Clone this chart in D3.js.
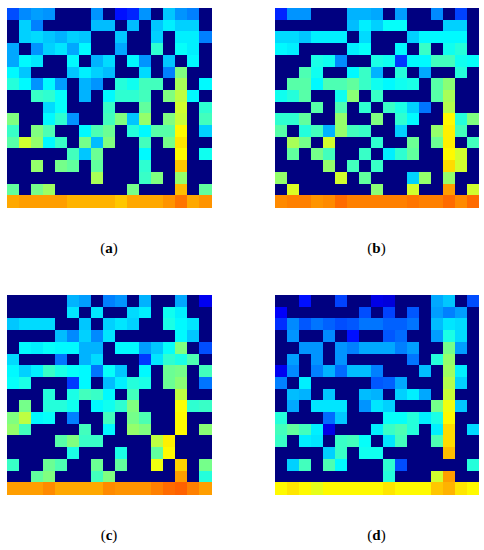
<!DOCTYPE html>
<html><head><meta charset="utf-8">
<script src="https://cdnjs.cloudflare.com/ajax/libs/d3/7.8.5/d3.min.js"></script>
<style>html,body{margin:0;padding:0;background:#fff}svg{display:block}</style>
</head><body><svg id="c" width="484" height="550"></svg>
<script>
const panelNames = ["a","b","c","d"];
const panelA = [
[20,26,28,27,0,0,0,27,0,14,16,27,0,32,27,25,0],
[0,33,25,0,0,0,0,31,31,0,31,0,32,36,33,33,0],
[0,33,34,32,30,33,32,0,0,32,0,0,33,0,36,36,25],
[29,0,27,33,35,29,37,0,0,29,0,0,42,0,38,36,0],
[29,37,35,0,0,37,0,30,34,0,37,27,0,32,0,37,0],
[37,32,0,0,0,32,36,33,31,0,0,34,0,25,50,0,0],
[41,37,27,37,28,0,30,27,0,41,39,44,44,0,54,0,37],
[0,0,43,42,38,0,30,0,37,42,42,44,0,50,56,37,0],
[0,0,0,34,38,0,0,0,43,0,0,47,0,0,58,0,42],
[50,0,0,37,42,27,0,0,44,50,32,52,0,50,57,0,44],
[43,0,50,45,0,0,37,45,48,0,41,37,46,46,63,0,33],
[46,58,52,37,43,0,49,31,50,0,0,44,0,49,65,0,0],
[0,0,0,0,0,44,32,48,0,0,0,37,0,0,63,0,39],
[0,0,52,0,49,47,0,47,0,0,0,42,0,0,68,0,0],
[0,0,0,0,0,0,0,54,0,0,0,43,50,0,52,0,0],
[47,0,49,53,0,0,0,0,0,0,49,0,0,0,69,0,47],
[71,72,72,72,72,70,70,70,70,68,71,71,71,73,76,71,73]];
const panelB = [
[16,27,27,0,0,0,30,30,29,0,28,0,0,26,0,19,0],
[0,0,0,0,0,0,31,36,33,38,38,0,0,0,33,33,0],
[34,34,32,36,36,36,0,34,0,0,0,33,37,37,37,37,0],
[37,36,0,0,0,0,36,38,0,0,37,0,43,0,39,41,0],
[0,0,0,40,39,26,0,0,40,39,18,37,37,44,44,39,38],
[0,0,45,39,0,0,37,43,30,0,41,0,29,0,0,41,0],
[0,46,46,37,45,45,47,43,39,37,39,40,0,46,51,0,0],
[39,41,46,0,0,39,51,0,43,0,0,0,0,46,54,0,0],
[0,0,0,46,0,45,0,42,0,43,40,33,24,0,55,0,0],
[42,42,47,0,0,52,0,0,50,0,42,37,0,0,63,41,50],
[46,0,41,44,30,52,44,43,0,0,33,0,0,52,64,44,0],
[0,54,49,0,58,0,0,0,42,0,0,48,0,48,64,0,44],
[0,47,0,49,44,0,0,43,0,36,42,47,0,0,63,58,0],
[0,0,0,0,52,0,44,0,43,0,0,0,0,0,66,58,0],
[52,0,0,0,0,58,0,47,0,0,0,33,52,0,52,0,0],
[0,59,0,0,0,0,0,0,51,0,0,58,0,0,72,0,58],
[74,75,75,73,74,77,75,75,75,75,75,76,75,75,77,74,77]];
const panelC = [
[0,0,0,0,0,30,28,0,25,27,0,30,0,0,29,0,11],
[0,0,0,0,0,35,0,35,0,0,34,36,0,39,36,0,0],
[32,34,34,34,0,0,32,0,33,35,33,0,0,40,37,35,0],
[0,0,0,0,31,26,33,26,35,0,0,0,0,0,37,32,0],
[0,37,36,38,37,37,30,30,0,37,37,28,32,38,50,0,20],
[34,0,0,0,24,0,30,34,0,0,0,18,35,42,40,45,0],
[37,33,36,43,40,38,37,24,38,32,0,37,0,48,49,0,44],
[38,40,0,0,0,18,37,0,31,36,41,40,0,48,51,0,24],
[0,0,0,41,0,40,44,43,37,0,44,0,0,0,56,0,0],
[0,49,0,41,41,39,0,37,39,42,50,0,0,0,62,42,43],
[50,56,37,38,0,25,0,0,44,0,49,45,0,0,63,0,0],
[52,44,0,0,0,0,44,0,37,0,52,50,0,0,63,0,51],
[0,0,0,0,46,50,43,43,0,0,0,0,56,64,0,0,0],
[0,0,0,0,0,40,0,0,0,40,0,0,47,63,0,0,0],
[43,0,0,48,45,0,0,48,0,47,0,0,61,0,67,0,49],
[0,0,47,50,0,0,0,44,50,0,0,0,0,0,72,0,41],
[72,72,72,74,71,71,71,71,74,73,73,73,75,77,78,75,72]];
const panelD = [
[0,0,14,0,0,19,0,0,10,9,0,0,0,29,32,0,20],
[12,0,0,0,0,0,0,20,0,19,0,21,0,28,25,28,0],
[17,26,21,24,22,20,21,24,24,22,22,24,0,31,35,34,0],
[0,27,0,0,26,0,14,0,0,21,23,0,0,28,40,34,0],
[0,0,27,27,0,27,25,29,29,29,25,28,0,0,49,28,0],
[0,28,0,27,0,27,0,0,0,0,0,24,0,41,52,0,0],
[11,26,0,25,30,23,31,31,25,0,0,0,31,0,53,36,0],
[25,0,36,0,0,0,0,0,21,22,29,0,0,0,55,33,0],
[0,31,30,0,32,0,0,31,30,0,33,36,29,0,57,0,0],
[0,29,0,35,35,35,0,27,35,33,0,0,0,49,61,32,0],
[41,0,0,0,23,32,0,0,0,38,38,41,36,40,63,0,0],
[44,47,44,36,10,0,0,0,36,43,45,41,0,36,66,0,34],
[43,0,36,35,0,43,44,38,0,35,44,0,0,45,66,0,0],
[0,0,0,0,33,43,0,39,39,0,0,0,0,0,69,0,0],
[0,33,44,0,45,37,0,0,0,42,20,0,0,0,0,0,41],
[0,0,0,0,0,0,0,0,0,41,0,0,0,58,72,0,0],
[63,65,63,60,63,63,63,63,63,65,63,63,63,68,70,65,63]];
const panelData = [panelA, panelB, panelC, panelD];

const panelLeft = [7, 274.5, 7, 274.5];
const panelTop = [8, 8, 295, 295];
const labelY = [253, 253, 540, 540];

const jet = d3.scaleLinear()
  .domain([0, 12.5, 37.5, 62.5, 87.5, 100])
  .range(["#000080", "#0000ff", "#00ffff", "#ffff00", "#ff0000", "#800000"])
  .clamp(true);

const svg = d3.select("#c");
const idx = d3.range(17);
panelData.forEach((rows, p) => {
  const x = d3.scaleBand().domain(idx).range([panelLeft[p], panelLeft[p] + 204]);
  const y = d3.scaleBand().domain(idx).range([panelTop[p], panelTop[p] + 199]);
  const g = svg.append("g").attr("shape-rendering", "crispEdges");
  rows.forEach((row, r) => {
    g.selectAll(null).data(row).enter().append("rect")
      .attr("x", (d, c) => x(c))
      .attr("y", y(r))
      .attr("width", x.bandwidth() + 0.5)
      .attr("height", y.bandwidth() + 0.5)
      .attr("fill", d => jet(d));
  });
  const t = svg.append("text")
    .attr("x", panelLeft[p] + 102)
    .attr("y", labelY[p])
    .attr("text-anchor", "middle")
    .attr("font-family", "Liberation Serif, serif")
    .attr("font-size", 15)
    .attr("fill", "#000");
  t.append("tspan").text("(");
  t.append("tspan").attr("font-weight", "bold").text(panelNames[p]);
  t.append("tspan").text(")");
});
</script></body></html>
